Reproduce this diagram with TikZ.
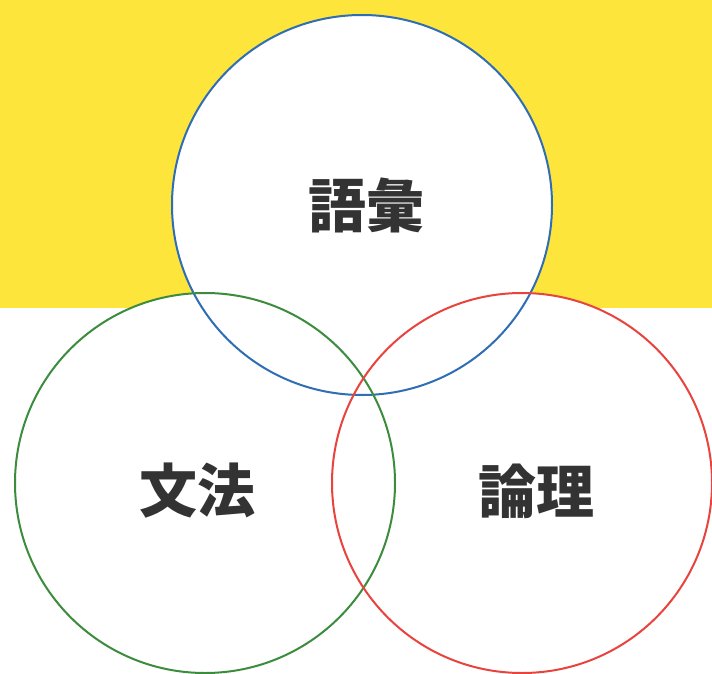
\documentclass[tikz,border=0pt]{standalone}
\usepackage{fontspec}
\newfontfamily\cjk{Noto Sans CJK JP}
\definecolor{bgyellow}{HTML}{FDE53C}
\definecolor{cblue}{HTML}{2F6DB5}
\definecolor{cgreen}{HTML}{3C8C3E}
\definecolor{cred}{HTML}{E8433D}
\definecolor{txt}{HTML}{333333}
\tikzset{
  ring/.style={circle, minimum size=380pt, inner sep=0pt, line width=2pt},
  label/.style={font=\cjk\bfseries\fontsize{58}{58}\selectfont, text=txt, inner sep=0pt}
}
\begin{document}
\begin{tikzpicture}[x=1pt,y=-1pt]
\useasboundingbox (0,0) rectangle (712,674);
\fill[bgyellow] (0,0) rectangle (712,308);
% white fills
\foreach \p in {(362,205),(205,483),(522,483)} {
  \fill[white] \p circle (190);
}
\node[ring, draw=cblue] (vocab) at (362,205) {};
\node[ring, draw=cgreen] (grammar) at (205,483) {};
\node[ring, draw=cred] (logic) at (522,483) {};
\node[label] (tv) at (366,205) {語彙};
\node[label] (tg) at (197,491) {文法};
\node[label] (tl) at (536,491) {論理};
\end{tikzpicture}
\end{document}
